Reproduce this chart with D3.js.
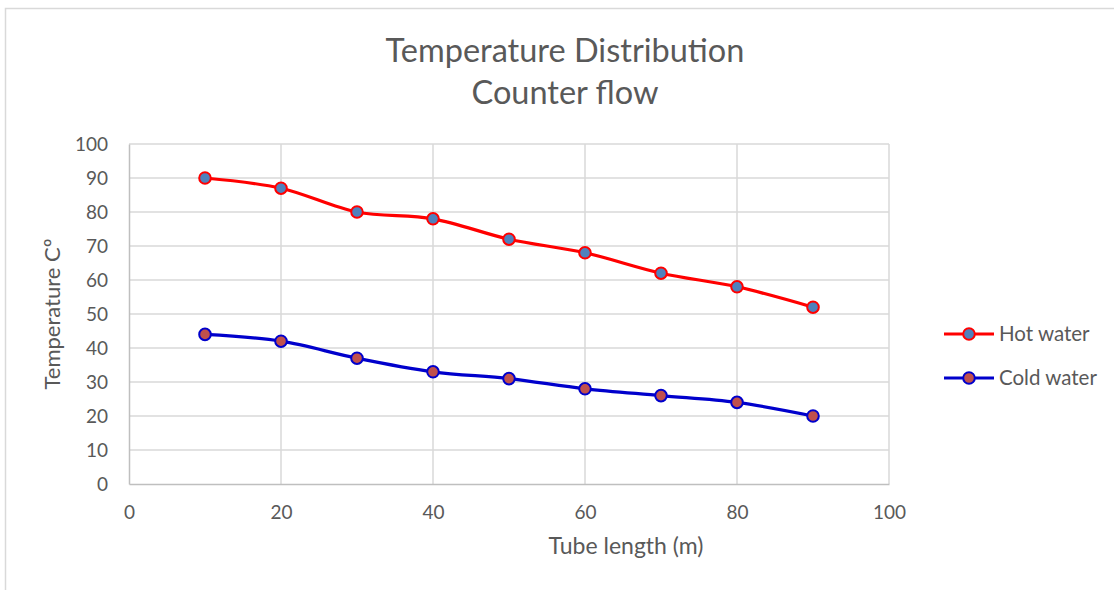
<!DOCTYPE html>
<html><head><meta charset="utf-8">
<script src="https://cdn.jsdelivr.net/npm/d3@7"></script>
<style>body{margin:0;background:#fff}svg{display:block}text{font-family:Lato,"Open Sans",sans-serif;fill:#595959}</style>
</head><body>
<svg id="c" width="1114" height="590"></svg>
<script>
const tubeLength = [10,20,30,40,50,60,70,80,90];
const hotWater = [90,87,80,78,72,68,62,58,52];
const coldWater = [44,42,37,33,31,28,26,24,20];
const xTicks = [0,20,40,60,80,100];
const yTicks = [0,10,20,30,40,50,60,70,80,90,100];
const titleLines = ["Temperature Distribution","Counter flow"];

const svg = d3.select("#c");
svg.append("rect").attr("x",5.5).attr("y",8.5).attr("width",1300).attr("height",800)
  .attr("fill","none").attr("stroke","#d9d9d9").attr("stroke-width",1.5);

const L=129,R=889,T=144,B=484;
const x = d3.scaleLinear().domain([0,100]).range([L,R]);
const y = d3.scaleLinear().domain([0,100]).range([B,T]);

const g = svg.append("g");
g.selectAll(".hg").data(yTicks.filter(d=>d>0)).join("line")
  .attr("x1",L).attr("x2",R).attr("y1",d=>y(d)).attr("y2",d=>y(d))
  .attr("stroke","#d9d9d9").attr("stroke-width",1.5);
g.selectAll(".vg").data(xTicks.filter(d=>d>0)).join("line")
  .attr("y1",T).attr("y2",B).attr("x1",d=>x(d)).attr("x2",d=>x(d))
  .attr("stroke","#d9d9d9").attr("stroke-width",1.5);

const xa = svg.append("g").attr("transform",`translate(0,${B})`)
  .call(d3.axisBottom(x).tickValues(xTicks).tickSize(0).tickPadding(22));
xa.select(".domain").attr("stroke","#bfbfbf").attr("stroke-width",1.5);
xa.selectAll("text").style("font-size","19px").attr("fill","#595959");
const ya = svg.append("g").attr("transform",`translate(${L},0)`)
  .call(d3.axisLeft(y).tickValues(yTicks).tickSize(0).tickPadding(21));
ya.select(".domain").attr("stroke","#bfbfbf").attr("stroke-width",1.5);
ya.selectAll("text").style("font-size","19px").attr("fill","#595959");

svg.append("g").selectAll("text").data(titleLines).join("text")
  .attr("x",565).attr("y",(d,i)=>62+i*42).attr("text-anchor","middle")
  .style("font-size","32.5px").text(d=>d);

svg.append("text").attr("x",626).attr("y",554).attr("text-anchor","middle")
  .style("font-size","23px").text("Tube length (m)");
svg.append("text").attr("transform","translate(60,314) rotate(-90)").attr("text-anchor","middle")
  .style("font-size","22px").text("Temperature Cº");

const series = [
  {name:"Hot water", vals:hotWater, line:"#ff0000", fill:"#4f81bd"},
  {name:"Cold water", vals:coldWater, line:"#0000cc", fill:"#c0504d"}
];
const lineGen = d3.line().x(d=>x(d[0])).y(d=>y(d[1])).curve(d3.curveCatmullRom.alpha(0.5));
series.forEach((s,si)=>{
  const pts = tubeLength.map((t,i)=>[t,s.vals[i]]);
  svg.append("path").attr("d",lineGen(pts)).attr("fill","none")
    .attr("stroke",s.line).attr("stroke-width",3.2).attr("stroke-linejoin","round");
  svg.append("g").selectAll("circle").data(pts).join("circle")
    .attr("cx",d=>x(d[0])).attr("cy",d=>y(d[1])).attr("r",5.8)
    .attr("fill",s.fill).attr("stroke",s.line).attr("stroke-width",2);
  const ly = 334 + si*44;
  svg.append("line").attr("x1",944).attr("x2",994).attr("y1",ly).attr("y2",ly)
    .attr("stroke",s.line).attr("stroke-width",3.2);
  svg.append("circle").attr("cx",969).attr("cy",ly).attr("r",5.8)
    .attr("fill",s.fill).attr("stroke",s.line).attr("stroke-width",2);
  svg.append("text").attr("x",999).attr("y",ly+7).style("font-size","20.5px").text(s.name);
});
</script>
</body></html>
